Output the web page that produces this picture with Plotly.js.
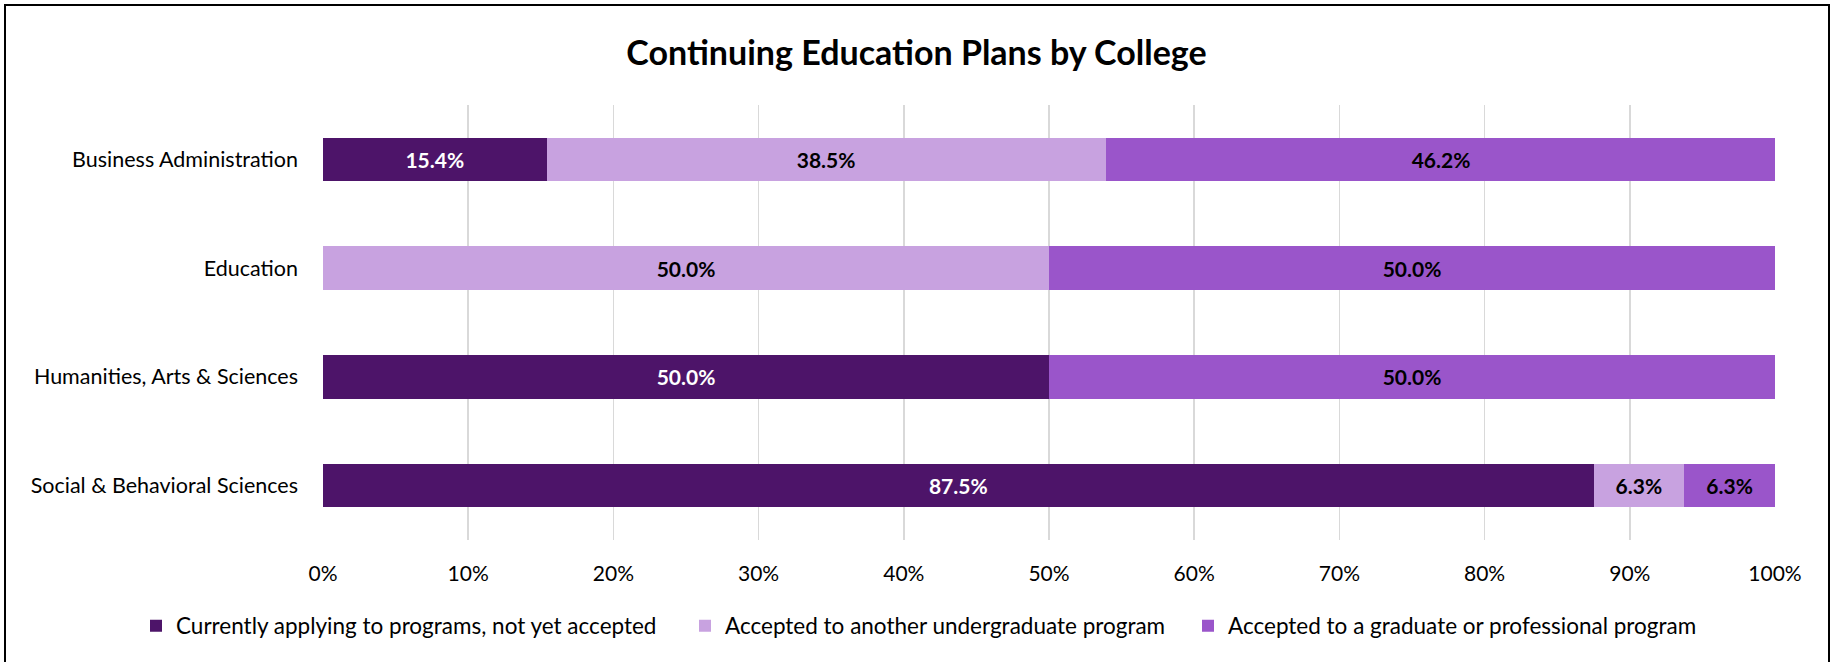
<!DOCTYPE html>
<html>
<head>
<meta charset="utf-8">
<script src="https://cdn.plot.ly/plotly-3.0.1.min.js"></script>
<style>
html,body{margin:0;padding:0;background:#fff;overflow:hidden;}
#chart{width:1833px;height:662px;}
#frame{position:absolute;left:4px;top:4px;width:1822px;height:700px;border:2px solid #000;pointer-events:none;}
</style>
</head>
<body>
<div id="chart"></div>
<div id="frame"></div>
<script>
const colleges = ["Business Administration", "Education", "Humanities, Arts & Sciences", "Social & Behavioral Sciences"];
const seriesNames = ["Currently applying to programs, not yet accepted", "Accepted to another undergraduate program", "Accepted to a graduate or professional program"];
const applying = [15.4, 0, 50.0, 87.5];
const undergrad = [38.5, 50.0, 0, 6.25];
const graduate = [46.2, 50.0, 50.0, 6.25];
const xTicks = [0,10,20,30,40,50,60,70,80,90,100];
const xTickLabels = ["0%","10%","20%","30%","40%","50%","60%","70%","80%","90%","100%"];

const colors = ["#4D1469", "#C8A2E0", "#9A55CA"];
const textColors = ["#ffffff", "#000000", "#000000"];
const FONT = "Lato, 'Open Sans', sans-serif";
const legendIds = ["legend", "legend2", "legend3"];
const legendTextX = [172, 721, 1224];

function labels(vals){ return vals.map(v => v > 0 ? v.toFixed(1) + "%" : ""); }

const series = [applying, undergrad, graduate];
const traces = series.map((vals, i) => ({
  type: "bar",
  orientation: "h",
  name: seriesNames[i],
  legend: legendIds[i],
  y: colleges,
  x: vals,
  text: labels(vals),
  textposition: "inside",
  insidetextanchor: "middle",
  textangle: 0,
  constraintext: "none",
  textfont: {family: FONT, size: 21, color: textColors[i], weight: "bold"},
  marker: {color: colors[i], line: {width: 0}},
  hoverinfo: "skip"
}));

function legendCfg(i){
  return {
    orientation: "h",
    x: (legendTextX[i] - 36) / 1833, xref: "container", xanchor: "left",
    y: 1 - 626/662, yref: "container", yanchor: "middle",
    font: {family: FONT, size: 22.5, color: "#000"},
    itemwidth: 30,
    bgcolor: "rgba(0,0,0,0)",
    borderwidth: 0,
    itemclick: false,
    itemdoubleclick: false
  };
}

const layout = {
  width: 1833,
  height: 662,
  barmode: "stack",
  bargap: 0.6,
  paper_bgcolor: "#ffffff",
  plot_bgcolor: "#ffffff",
  font: {family: FONT, size: 21, color: "#000"},
  margin: {l: 323, r: 58, t: 105, b: 122, pad: 0},
  title: {
    text: "<b>Continuing Education Plans by College</b>",
    font: {family: FONT, size: 34, color: "#000"},
    x: 0.5, xref: "container", xanchor: "center",
    y: 1 - 53/662, yref: "container", yanchor: "middle"
  },
  xaxis: {
    range: [0, 100],
    tickvals: xTicks,
    ticktext: xTickLabels,
    showgrid: true,
    gridcolor: "#D9D9D9",
    gridwidth: 1.5,
    zeroline: false,
    showline: false,
    ticks: "",
    ticklabelstandoff: 19,
    tickfont: {family: FONT, size: 21, color: "#000"},
    fixedrange: true
  },
  yaxis: {
    type: "category",
    categoryorder: "array",
    categoryarray: colleges,
    autorange: "reversed",
    showgrid: false,
    zeroline: false,
    showline: false,
    ticks: "",
    ticklabelstandoff: 24,
    tickfont: {family: FONT, size: 21.5, color: "#000"},
    fixedrange: true
  },
  showlegend: true,
  legend: legendCfg(0),
  legend2: legendCfg(1),
  legend3: legendCfg(2)
};

Plotly.newPlot("chart", traces, layout, {displayModeBar: false, staticPlot: true});
</script>
</body>
</html>
